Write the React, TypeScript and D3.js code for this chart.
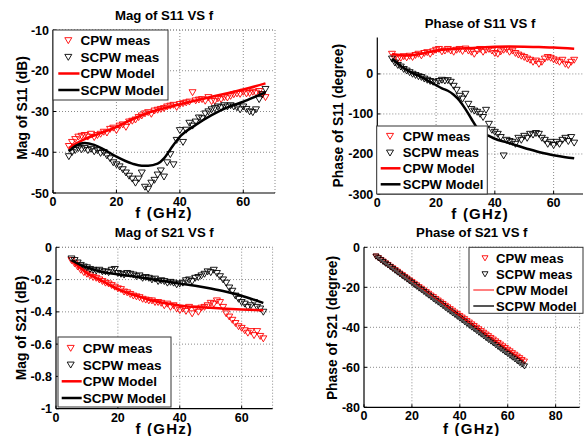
import React from "react";
import * as d3 from "d3";

// ---------- DATA ----------
const FREQ = d3.range(5, 68); // measured frequencies, GHz (5..67)

// Mag of S11 (dB)
const CPW_S11_MAG = [
  -38.5, -37.5, -36.8, -36.2, -36, -35.8, -36.2, -35.5, -36.3, -35.8,
  -35.5, -35, -35.2, -34.3, -34, -34.6, -33.5, -33.2, -33.8, -32.5,
  -32.3, -32, -31.4, -31, -30.5, -30.2, -30.6, -29.8, -29.6, -29.4,
  -29.2, -28.8, -28.6, -28.4, -28.9, -28.2, -28, -27.8, -27.6, -25.3,
  -27.3, -27.1, -27, -27.4, -26.5, -27.5, -27.4, -26.8, -27, -26.5,
  -26.6, -26.2, -25.8, -25.6, -25.7, -25.2, -25.6, -25.5, -25.2, -25.4,
  -25, -25.8, -26.5,
];
const SCPW_S11_MAG = [
  -41, -40, -39.5, -39, -39.3, -39, -39.5, -39.2, -39.8, -39.5,
  -40.2, -40, -40.8, -41.5, -42.5, -43, -43.5, -44.2, -45, -45.8,
  -46.5, -47.5, -46.5, -45, -48.5, -49, -47.5, -46.8, -45.5, -44.5,
  -46, -42.5, -40.5, -43, -37, -34.6, -37.5, -34.5, -32.8, -33.5,
  -32.5, -31.5, -31.7, -30.5, -30, -29.5, -29.2, -28.8, -29, -28.5,
  -28.8, -28.5, -28.8, -29, -29.5, -28.8, -29.4, -30, -30.2, -29.5,
  -27, -25.8, -24.5,
];
const CPW_S11_MAG_MODEL_F = [5, 8, 10, 15, 20, 25, 30, 35, 40, 45, 50, 55, 60, 67];
const CPW_S11_MAG_MODEL = [-39, -37.6, -36.8, -35.3, -33.8, -31.9, -30.3, -29.2, -28.2, -27.3, -26.4, -25.5, -24.6, -23.1];
const SCPW_S11_MAG_MODEL_F = [5, 7, 10, 13, 16, 20, 25, 28, 30, 33, 35, 37, 40, 45, 50, 55, 60, 64, 67];
const SCPW_S11_MAG_MODEL = [-39.8, -38.5, -37.7, -38.2, -39.3, -41.1, -42.8, -43.3, -43.3, -42.8, -41.5, -39.3, -36.2, -33.3, -30.9, -29.0, -27.6, -26.3, -25.3];

// Phase of S11 (degree)
const CPW_S11_PHASE = [
  50, 42, 38, 40, 44, 41, 45, 42, 47, 50,
  46, 52, 54, 50, 56, 60, 62, 56, 58, 62,
  58, 55, 60, 62, 57, 63, 58, 55, 50, 58,
  62, 55, 60, 62, 58, 52, 50, 56, 60, 62,
  55, 58, 52, 48, 45, 42, 38, 35, 30, 33,
  25, 30, 38, 42, 40, 36, 33, 30, 35, 25,
  22, 30, 35,
];
const SCPW_S11_PHASE = [
  38, 28, 22, 18, 12, 8, 4, 0, -3, -6,
  -8, -12, -15, -18, -20, -22, -18, -15, -17, -16,
  -20, -30, -40, -55, -62, -50, -75, -88, -92, -95,
  -100, -108, -90, -125, -140, -145, -150, -158, -204, -165,
  -168, -170, -175, -160, -165, -155, -160, -150, -152, -148,
  -150, -160, -165, -175, -170, -178, -170, -175, -165, -160,
  -168, -158, -172,
];
const CPW_S11_PHASE_MODEL_F = [5, 8, 10, 13, 16, 20, 25, 30, 35, 40, 45, 50, 55, 60, 67];
const CPW_S11_PHASE_MODEL = [50, 47, 46, 48, 52, 58, 62, 64, 66, 68, 68.5, 68, 67, 66, 63];
const SCPW_S11_PHASE_MODEL_F = [5, 8, 10, 12, 15, 18, 20, 22, 24, 26, 28, 30, 32, 34, 36, 38, 40, 44, 48, 52, 56, 60, 64, 67];
const SCPW_S11_PHASE_MODEL = [38, 20, 10, 2, -8, -20, -28, -36, -42, -52, -67, -88, -112, -135, -148, -155, -162, -171, -180, -189, -197, -203, -208, -211];

// Mag of S21 (dB)
const CPW_S21_MAG = [
  -0.08, -0.1, -0.12, -0.14, -0.155, -0.165, -0.175, -0.185, -0.19, -0.2,
  -0.21, -0.22, -0.225, -0.235, -0.245, -0.255, -0.26, -0.275, -0.28, -0.29,
  -0.3, -0.305, -0.31, -0.32, -0.325, -0.33, -0.33, -0.34, -0.34, -0.345,
  -0.36, -0.35, -0.37, -0.36, -0.38, -0.39, -0.38, -0.395, -0.37, -0.41,
  -0.38, -0.4, -0.375, -0.37, -0.36, -0.345, -0.35, -0.33, -0.34, -0.37,
  -0.41, -0.43, -0.45, -0.47, -0.49, -0.5, -0.515, -0.53, -0.52, -0.545,
  -0.52, -0.55, -0.565,
];
const SCPW_S21_MAG = [
  -0.07, -0.08, -0.095, -0.11, -0.12, -0.125, -0.135, -0.14, -0.145, -0.14,
  -0.15, -0.15, -0.155, -0.14, -0.135, -0.16, -0.165, -0.17, -0.16, -0.165,
  -0.17, -0.18, -0.175, -0.19, -0.185, -0.19, -0.2, -0.195, -0.21, -0.205,
  -0.21, -0.22, -0.215, -0.22, -0.23, -0.225, -0.22, -0.205, -0.2, -0.21,
  -0.19, -0.185, -0.175, -0.165, -0.15, -0.155, -0.14, -0.16, -0.18, -0.2,
  -0.22, -0.25, -0.27, -0.3, -0.32, -0.34, -0.35, -0.37, -0.36, -0.34,
  -0.37, -0.38, -0.4,
];
const CPW_S21_MAG_MODEL_F = [5, 8, 10, 14, 18, 22, 26, 30, 35, 40, 45, 50, 55, 60, 67];
const CPW_S21_MAG_MODEL = [-0.08, -0.13, -0.16, -0.2, -0.24, -0.275, -0.3, -0.325, -0.345, -0.36, -0.37, -0.375, -0.38, -0.385, -0.39];
const SCPW_S21_MAG_MODEL_F = [5, 8, 10, 14, 18, 22, 26, 30, 35, 40, 45, 50, 55, 60, 64, 67];
const SCPW_S21_MAG_MODEL = [-0.08, -0.11, -0.125, -0.148, -0.163, -0.173, -0.182, -0.195, -0.21, -0.225, -0.238, -0.255, -0.275, -0.3, -0.325, -0.345];

// Phase of S21 (degree)
const CPW_S21_PHASE = [
  -4.5, -5.3, -6.2, -7.0, -7.9, -8.7, -9.6, -10.4, -11.3, -12.1,
  -13.0, -13.8, -14.7, -15.5, -16.4, -17.2, -18.1, -18.9, -19.8, -20.6,
  -21.5, -22.3, -23.1, -24.0, -24.8, -25.7, -26.5, -27.4, -28.2, -29.1,
  -29.9, -30.8, -31.6, -32.5, -33.3, -34.2, -35.0, -35.8, -36.7, -37.5,
  -38.4, -39.2, -40.1, -40.9, -41.8, -42.6, -43.5, -44.3, -45.2, -46.0,
  -46.9, -47.7, -48.5, -49.4, -50.2, -51.1, -51.9, -52.8, -53.6, -54.5,
  -55.3, -56.2, -57.0,
];
const SCPW_S21_PHASE = [
  -4.5, -5.4, -6.3, -7.2, -8.1, -8.9, -9.8, -10.7, -11.6, -12.5,
  -13.4, -14.3, -15.1, -16.0, -16.9, -17.8, -18.7, -19.6, -20.5, -21.3,
  -22.2, -23.1, -24.0, -24.9, -25.8, -26.7, -27.5, -28.4, -29.3, -30.2,
  -31.1, -32.0, -32.9, -33.7, -34.6, -35.5, -36.4, -37.3, -38.2, -39.1,
  -40.0, -40.8, -41.7, -42.6, -43.5, -44.4, -45.3, -46.2, -47.0, -47.9,
  -48.8, -49.7, -50.6, -51.5, -52.4, -53.2, -54.1, -55.0, -55.9, -56.8,
  -57.7, -58.5, -59.4,
];
const CPW_S21_PHASE_MODEL_F = [5, 36, 67];
const CPW_S21_PHASE_MODEL = [-4.5, -30.8, -57.0];
const SCPW_S21_PHASE_MODEL_F = [5, 36, 67];
const SCPW_S21_PHASE_MODEL = [-4.5, -32.0, -59.4];

const LEGEND_LABELS = ["CPW meas", "SCPW meas", "CPW Model", "SCPW Model"];

// ---------- STYLE ----------
const FONT = "'Liberation Sans', Arial, sans-serif";
const RED = "#ff0000";
const BLACK = "#000000";

type Series = {
  kind: "marker" | "line";
  xs: number[];
  ys: number[];
  color: string;
  width?: number;
};

type Legend = {
  x: number; y: number; w: number; h: number;
  markerX: number; lineX1: number; lineX2: number; textX: number;
  rows: number[]; fs: number;
};

type Spec = {
  left: number; right: number; top: number; bottom: number;
  xDomain: [number, number]; yDomain: [number, number];
  xTicks: number[]; yTicks: number[];
  topBorder: boolean; rightBorder: boolean;
  title: string; titleY: number;
  xLabel: string; xLabelY: number;
  yLabel: string; yLabelX: number; yLabelY: number;
  series: Series[];
  legend: Legend;
  markerSize: number;
};

function triPath(cx: number, cy: number, s: number) {
  const h = s * 0.5;
  return `M${cx - h},${cy - h * 0.75}L${cx + h},${cy - h * 0.75}L${cx},${cy + h * 0.95}Z`;
}

function Panel({ spec }: { spec: Spec }) {
  const x = d3.scaleLinear().domain(spec.xDomain).range([spec.left, spec.right]);
  const y = d3.scaleLinear().domain(spec.yDomain).range([spec.bottom, spec.top]);
  const line = d3
    .line<[number, number]>()
    .x((d) => x(d[0]))
    .y((d) => y(d[1]))
    .curve(d3.curveMonotoneX);
  const grid = "#8a8a8a";
  const dash = "1,2";
  const lg = spec.legend;
  const cx = (spec.left + spec.right) / 2;
  return (
    <g>
      {/* grid */}
      {spec.xTicks
        .filter((t) => t !== spec.xDomain[0])
        .map((t) => (
          <line key={"gx" + t} x1={x(t)} x2={x(t)} y1={spec.bottom} y2={spec.top}
            stroke={grid} strokeWidth={1} strokeDasharray={dash} />
        ))}
      {spec.yTicks
        .filter((t) => t !== spec.yDomain[0])
        .map((t) => (
          <line key={"gy" + t} x1={spec.left} x2={spec.right} y1={y(t)} y2={y(t)}
            stroke={grid} strokeWidth={1} strokeDasharray={dash} />
        ))}
      {spec.rightBorder && (
        <line x1={spec.right} x2={spec.right} y1={spec.bottom} y2={spec.top}
          stroke={grid} strokeWidth={1} strokeDasharray={dash} />
      )}
      {spec.topBorder && (
        <line x1={spec.left} x2={spec.right} y1={spec.top} y2={spec.top}
          stroke={grid} strokeWidth={1} strokeDasharray={dash} />
      )}
      {/* data */}
      {spec.series.map((s, i) =>
        s.kind === "marker" ? (
          <g key={i}>
            {s.xs.map((f, j) => (
              <path key={j} d={triPath(x(f), y(s.ys[j]), spec.markerSize)}
                fill="none" stroke={s.color} strokeWidth={0.9} />
            ))}
          </g>
        ) : (
          <path key={i} d={line(s.xs.map((f, j) => [f, s.ys[j]] as [number, number])) || ""}
            fill="none" stroke={s.color} strokeWidth={s.width ?? 2.5} strokeLinejoin="round" />
        )
      )}
      {/* axes */}
      <line x1={spec.left} x2={spec.left} y1={spec.top} y2={spec.bottom} stroke="#000" strokeWidth={1.2} />
      <line x1={spec.left} x2={spec.right} y1={spec.bottom} y2={spec.bottom} stroke="#000" strokeWidth={1.2} />
      {spec.xTicks.map((t) => (
        <g key={"tx" + t}>
          <line x1={x(t)} x2={x(t)} y1={spec.bottom} y2={spec.bottom - 3} stroke="#000" />
          <text x={x(t)} y={spec.bottom + 13} textAnchor="middle" fontSize={12.5}
            fontWeight="bold" fontFamily={FONT}>{String(t)}</text>
        </g>
      ))}
      {spec.yTicks.map((t) => (
        <g key={"ty" + t}>
          <line x1={spec.left} x2={spec.left + 3} y1={y(t)} y2={y(t)} stroke="#000" />
          <text x={spec.left - 4} y={y(t)} dy="0.36em" textAnchor="end" fontSize={12.5}
            fontWeight="bold" fontFamily={FONT}>{String(t)}</text>
        </g>
      ))}
      {/* labels */}
      <text x={cx} y={spec.titleY} textAnchor="middle" fontSize={13.2} fontWeight="bold" fontFamily={FONT}>
        {spec.title}
      </text>
      <text x={cx} y={spec.xLabelY} textAnchor="middle" fontSize={15} letterSpacing={1.2}
        fontWeight="bold" fontFamily={FONT}>
        {spec.xLabel}
      </text>
      <text transform={`translate(${spec.yLabelX + 5},${spec.yLabelY}) rotate(-90)`} textAnchor="middle"
        fontSize={13.8} fontWeight="bold" fontFamily={FONT}>
        {spec.yLabel}
      </text>
      {/* legend */}
      <rect x={lg.x} y={lg.y} width={lg.w} height={lg.h} fill="#fff" stroke="#333" strokeWidth={1} />
      {spec.series.map((s, i) => (
        <g key={"lg" + i}>
          {s.kind === "marker" ? (
            <path d={triPath(lg.markerX, lg.rows[i], spec.markerSize)} fill="none" stroke={s.color} strokeWidth={0.9} />
          ) : (
            <line x1={lg.lineX1} x2={lg.lineX2} y1={lg.rows[i]} y2={lg.rows[i]} stroke={s.color} strokeWidth={s.width ?? 2.5} />
          )}
          <text x={lg.textX} y={lg.rows[i]} dy="0.36em" fontSize={lg.fs} fontWeight="bold" fontFamily={FONT}>
            {LEGEND_LABELS[i]}
          </text>
        </g>
      ))}
    </g>
  );
}

const SPECS: Spec[] = [
  {
    left: 53, right: 275, top: 30, bottom: 193,
    xDomain: [0, 70], yDomain: [-50, -10],
    xTicks: [0, 20, 40, 60], yTicks: [-50, -40, -30, -20, -10],
    topBorder: true, rightBorder: true,
    title: "Mag of S11 VS f", titleY: 19.5,
    xLabel: "f (GHz)", xLabelY: 218,
    yLabel: "Mag of S11 (dB)", yLabelX: 21.7, yLabelY: 108,
    markerSize: 7,
    series: [
      { kind: "marker", xs: FREQ, ys: CPW_S11_MAG, color: RED },
      { kind: "marker", xs: FREQ, ys: SCPW_S11_MAG, color: BLACK },
      { kind: "line", xs: CPW_S11_MAG_MODEL_F, ys: CPW_S11_MAG_MODEL, color: RED },
      { kind: "line", xs: SCPW_S11_MAG_MODEL_F, ys: SCPW_S11_MAG_MODEL, color: BLACK },
    ],
    legend: { x: 53, y: 30, w: 115, h: 70, markerX: 68.3, lineX1: 58.3, lineX2: 79.5, textX: 80.5, rows: [40.3, 57, 73.5, 90], fs: 13.5 },
  },
  {
    left: 377.3, right: 583, top: 37.5, bottom: 194,
    xDomain: [0, 70], yDomain: [-300, 91],
    xTicks: [0, 20, 40, 60], yTicks: [-300, -200, -100, 0],
    topBorder: false, rightBorder: false,
    title: "Phase of S11 VS f", titleY: 27.5,
    xLabel: "f (GHz)", xLabelY: 219,
    yLabel: "Phase of S11 (degree)", yLabelX: 338.3, yLabelY: 115.7,
    markerSize: 7,
    series: [
      { kind: "marker", xs: FREQ, ys: CPW_S11_PHASE, color: RED },
      { kind: "marker", xs: FREQ, ys: SCPW_S11_PHASE, color: BLACK },
      { kind: "line", xs: CPW_S11_PHASE_MODEL_F, ys: CPW_S11_PHASE_MODEL, color: RED },
      { kind: "line", xs: SCPW_S11_PHASE_MODEL_F, ys: SCPW_S11_PHASE_MODEL, color: BLACK },
    ],
    legend: { x: 376.7, y: 126, w: 110.6, h: 68, markerX: 390, lineX1: 380.7, lineX2: 400.5, textX: 402.7, rows: [136, 152.7, 168.3, 184.3], fs: 13.1 },
  },
  {
    left: 56, right: 272.6, top: 247.3, bottom: 408.7,
    xDomain: [0, 70], yDomain: [-1, 0],
    xTicks: [0, 20, 40, 60], yTicks: [-1, -0.8, -0.6, -0.4, -0.2, 0],
    topBorder: true, rightBorder: true,
    title: "Mag of S21 VS f", titleY: 237,
    xLabel: "f (GHz)", xLabelY: 434,
    yLabel: "Mag of S21 (dB)", yLabelX: 20.7, yLabelY: 328,
    markerSize: 7,
    series: [
      { kind: "marker", xs: FREQ, ys: CPW_S21_MAG, color: RED },
      { kind: "marker", xs: FREQ, ys: SCPW_S21_MAG, color: BLACK },
      { kind: "line", xs: CPW_S21_MAG_MODEL_F, ys: CPW_S21_MAG_MODEL, color: RED },
      { kind: "line", xs: SCPW_S21_MAG_MODEL_F, ys: SCPW_S21_MAG_MODEL, color: BLACK },
    ],
    legend: { x: 58, y: 337, w: 113, h: 70, markerX: 70.7, lineX1: 61.7, lineX2: 81.7, textX: 82.7, rows: [348, 364.7, 381.3, 398], fs: 13.5 },
  },
  {
    left: 364, right: 579.6, top: 247.3, bottom: 407.3,
    xDomain: [0, 90], yDomain: [-80, 0],
    xTicks: [0, 20, 40, 60, 80], yTicks: [-80, -60, -40, -20, 0],
    topBorder: true, rightBorder: true,
    title: "Phase of S21 VS f", titleY: 237,
    xLabel: "f (GHz)", xLabelY: 434,
    yLabel: "Phase of S21 (degree)", yLabelX: 331.7, yLabelY: 328,
    markerSize: 6,
    series: [
      { kind: "marker", xs: FREQ, ys: CPW_S21_PHASE, color: RED },
      { kind: "marker", xs: FREQ, ys: SCPW_S21_PHASE, color: BLACK },
      { kind: "line", xs: CPW_S21_PHASE_MODEL_F, ys: CPW_S21_PHASE_MODEL, color: RED, width: 1 },
      { kind: "line", xs: SCPW_S21_PHASE_MODEL_F, ys: SCPW_S21_PHASE_MODEL, color: "#555555", width: 2 },
    ],
    legend: { x: 469, y: 247.3, w: 114, h: 66, markerX: 485, lineX1: 473.3, lineX2: 494, textX: 496, rows: [258, 274, 290, 306], fs: 13.1 },
  },
];

export default function App() {
  return (
    <svg width={586} height={436} viewBox="0 0 586 436"
      style={{ position: "absolute", left: 0, top: 0, background: "#fff" }}>
      <rect x={0} y={0} width={586} height={436} fill="#fff" />
      {SPECS.map((s, i) => (
        <Panel key={i} spec={s} />
      ))}
    </svg>
  );
}
